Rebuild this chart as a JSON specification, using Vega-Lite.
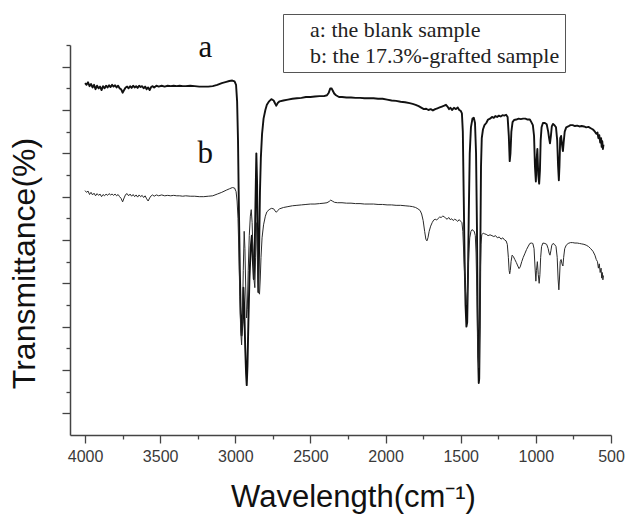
{
"$schema": "https://vega.github.io/schema/vega-lite/v6.json",
"width": 541, "height": 390,
"autosize": {"type": "none"},
"padding": {"left": 70, "top": 45, "right": 14, "bottom": 82},
"background": "white",
"config": {"view": {"stroke": null}},
"datasets": {
"spectra": [
{"s":"a","w":4000,"t":8.12},{"s":"a","w":3990,"t":8.08},{"s":"a","w":3980,"t":8.14},{"s":"a","w":3970,"t":8.05},{"s":"a","w":3960,"t":8.10},{"s":"a","w":3950,"t":8.02},{"s":"a","w":3940,"t":8.08},{"s":"a","w":3930,"t":7.98},{"s":"a","w":3920,"t":8.06},{"s":"a","w":3910,"t":8.00},{"s":"a","w":3900,"t":8.04},{"s":"a","w":3890,"t":7.96},{"s":"a","w":3880,"t":8.05},{"s":"a","w":3870,"t":8.00},{"s":"a","w":3860,"t":8.06},{"s":"a","w":3850,"t":8.02},{"s":"a","w":3840,"t":8.07},{"s":"a","w":3830,"t":8.03},{"s":"a","w":3820,"t":8.08},{"s":"a","w":3810,"t":8.04},{"s":"a","w":3800,"t":8.07},{"s":"a","w":3790,"t":8.02},{"s":"a","w":3780,"t":8.06},{"s":"a","w":3770,"t":8.00},{"s":"a","w":3760,"t":7.98},{"s":"a","w":3750,"t":7.90},{"s":"a","w":3740,"t":7.96},{"s":"a","w":3730,"t":8.02},{"s":"a","w":3720,"t":8.04},{"s":"a","w":3710,"t":8.00},{"s":"a","w":3700,"t":8.05},{"s":"a","w":3690,"t":8.01},{"s":"a","w":3680,"t":8.06},{"s":"a","w":3670,"t":8.02},{"s":"a","w":3660,"t":8.05},{"s":"a","w":3650,"t":8.01},{"s":"a","w":3640,"t":8.06},{"s":"a","w":3630,"t":8.03},{"s":"a","w":3620,"t":8.05},{"s":"a","w":3610,"t":8.00},{"s":"a","w":3600,"t":8.04},{"s":"a","w":3590,"t":7.98},{"s":"a","w":3580,"t":8.02},{"s":"a","w":3570,"t":7.96},{"s":"a","w":3560,"t":8.03},{"s":"a","w":3550,"t":8.05},{"s":"a","w":3540,"t":8.02},{"s":"a","w":3525,"t":8.06},{"s":"a","w":3510,"t":8.04},{"s":"a","w":3490,"t":8.06},{"s":"a","w":3470,"t":8.04},{"s":"a","w":3450,"t":8.06},{"s":"a","w":3430,"t":8.05},{"s":"a","w":3410,"t":8.06},{"s":"a","w":3390,"t":8.05},{"s":"a","w":3370,"t":8.06},{"s":"a","w":3350,"t":8.05},{"s":"a","w":3330,"t":8.05},{"s":"a","w":3300,"t":8.06},{"s":"a","w":3270,"t":8.05},{"s":"a","w":3240,"t":8.04},{"s":"a","w":3210,"t":8.04},{"s":"a","w":3180,"t":8.04},{"s":"a","w":3150,"t":8.05},{"s":"a","w":3120,"t":8.08},{"s":"a","w":3090,"t":8.12},{"s":"a","w":3060,"t":8.15},{"s":"a","w":3040,"t":8.17},{"s":"a","w":3020,"t":8.18},{"s":"a","w":3005,"t":8.16},{"s":"a","w":2995,"t":8.08},{"s":"a","w":2988,"t":7.7},{"s":"a","w":2982,"t":6.8},{"s":"a","w":2976,"t":5.2},{"s":"a","w":2970,"t":3.8},{"s":"a","w":2964,"t":2.8},{"s":"a","w":2958,"t":2.3},{"s":"a","w":2952,"t":2.6},{"s":"a","w":2946,"t":3.4},{"s":"a","w":2940,"t":2.9},{"s":"a","w":2934,"t":2.0},{"s":"a","w":2928,"t":1.4},{"s":"a","w":2924,"t":1.15},{"s":"a","w":2919,"t":1.6},{"s":"a","w":2913,"t":2.6},{"s":"a","w":2906,"t":3.6},{"s":"a","w":2898,"t":4.3},{"s":"a","w":2890,"t":4.6},{"s":"a","w":2883,"t":4.0},{"s":"a","w":2877,"t":3.6},{"s":"a","w":2871,"t":4.2},{"s":"a","w":2866,"t":5.3},{"s":"a","w":2860,"t":6.5},{"s":"a","w":2855,"t":5.8},{"s":"a","w":2851,"t":4.3},{"s":"a","w":2847,"t":3.3},{"s":"a","w":2842,"t":4.2},{"s":"a","w":2836,"t":5.6},{"s":"a","w":2830,"t":6.4},{"s":"a","w":2822,"t":6.95},{"s":"a","w":2812,"t":7.3},{"s":"a","w":2800,"t":7.5},{"s":"a","w":2790,"t":7.62},{"s":"a","w":2775,"t":7.7},{"s":"a","w":2760,"t":7.75},{"s":"a","w":2745,"t":7.72},{"s":"a","w":2735,"t":7.65},{"s":"a","w":2727,"t":7.6},{"s":"a","w":2718,"t":7.66},{"s":"a","w":2705,"t":7.7},{"s":"a","w":2680,"t":7.72},{"s":"a","w":2650,"t":7.74},{"s":"a","w":2620,"t":7.76},{"s":"a","w":2590,"t":7.77},{"s":"a","w":2560,"t":7.78},{"s":"a","w":2530,"t":7.8},{"s":"a","w":2500,"t":7.8},{"s":"a","w":2470,"t":7.81},{"s":"a","w":2440,"t":7.82},{"s":"a","w":2410,"t":7.82},{"s":"a","w":2390,"t":7.84},{"s":"a","w":2378,"t":7.9},{"s":"a","w":2368,"t":8.0},{"s":"a","w":2360,"t":8.0},{"s":"a","w":2352,"t":7.95},{"s":"a","w":2342,"t":7.88},{"s":"a","w":2330,"t":7.84},{"s":"a","w":2310,"t":7.8},{"s":"a","w":2290,"t":7.8},{"s":"a","w":2260,"t":7.79},{"s":"a","w":2230,"t":7.79},{"s":"a","w":2200,"t":7.78},{"s":"a","w":2170,"t":7.78},{"s":"a","w":2140,"t":7.77},{"s":"a","w":2110,"t":7.77},{"s":"a","w":2080,"t":7.77},{"s":"a","w":2050,"t":7.76},{"s":"a","w":2020,"t":7.76},{"s":"a","w":1990,"t":7.74},{"s":"a","w":1960,"t":7.72},{"s":"a","w":1930,"t":7.71},{"s":"a","w":1900,"t":7.69},{"s":"a","w":1870,"t":7.68},{"s":"a","w":1840,"t":7.66},{"s":"a","w":1820,"t":7.64},{"s":"a","w":1800,"t":7.62},{"s":"a","w":1780,"t":7.59},{"s":"a","w":1760,"t":7.55},{"s":"a","w":1745,"t":7.52},{"s":"a","w":1730,"t":7.53},{"s":"a","w":1715,"t":7.5},{"s":"a","w":1700,"t":7.52},{"s":"a","w":1685,"t":7.49},{"s":"a","w":1670,"t":7.52},{"s":"a","w":1655,"t":7.54},{"s":"a","w":1640,"t":7.56},{"s":"a","w":1625,"t":7.58},{"s":"a","w":1610,"t":7.6},{"s":"a","w":1598,"t":7.62},{"s":"a","w":1588,"t":7.58},{"s":"a","w":1578,"t":7.52},{"s":"a","w":1568,"t":7.55},{"s":"a","w":1558,"t":7.5},{"s":"a","w":1545,"t":7.55},{"s":"a","w":1532,"t":7.52},{"s":"a","w":1520,"t":7.56},{"s":"a","w":1510,"t":7.5},{"s":"a","w":1500,"t":7.48},{"s":"a","w":1492,"t":7.42},{"s":"a","w":1486,"t":7.0},{"s":"a","w":1480,"t":5.5},{"s":"a","w":1474,"t":4.0},{"s":"a","w":1468,"t":3.0},{"s":"a","w":1462,"t":2.5},{"s":"a","w":1457,"t":2.6},{"s":"a","w":1452,"t":3.6},{"s":"a","w":1446,"t":5.2},{"s":"a","w":1440,"t":6.5},{"s":"a","w":1432,"t":7.1},{"s":"a","w":1422,"t":7.3},{"s":"a","w":1413,"t":7.32},{"s":"a","w":1405,"t":7.2},{"s":"a","w":1398,"t":6.5},{"s":"a","w":1392,"t":4.8},{"s":"a","w":1388,"t":3.0},{"s":"a","w":1384,"t":1.8},{"s":"a","w":1380,"t":1.2},{"s":"a","w":1377,"t":1.3},{"s":"a","w":1373,"t":2.5},{"s":"a","w":1369,"t":4.5},{"s":"a","w":1365,"t":6.2},{"s":"a","w":1360,"t":6.85},{"s":"a","w":1352,"t":7.05},{"s":"a","w":1342,"t":7.15},{"s":"a","w":1330,"t":7.2},{"s":"a","w":1318,"t":7.28},{"s":"a","w":1305,"t":7.3},{"s":"a","w":1292,"t":7.34},{"s":"a","w":1280,"t":7.32},{"s":"a","w":1270,"t":7.36},{"s":"a","w":1258,"t":7.34},{"s":"a","w":1246,"t":7.37},{"s":"a","w":1234,"t":7.35},{"s":"a","w":1222,"t":7.38},{"s":"a","w":1210,"t":7.37},{"s":"a","w":1198,"t":7.39},{"s":"a","w":1188,"t":7.34},{"s":"a","w":1180,"t":6.9},{"s":"a","w":1174,"t":6.32},{"s":"a","w":1169,"t":6.5},{"s":"a","w":1163,"t":7.0},{"s":"a","w":1155,"t":7.22},{"s":"a","w":1145,"t":7.27},{"s":"a","w":1130,"t":7.28},{"s":"a","w":1115,"t":7.3},{"s":"a","w":1100,"t":7.29},{"s":"a","w":1085,"t":7.3},{"s":"a","w":1070,"t":7.3},{"s":"a","w":1055,"t":7.28},{"s":"a","w":1040,"t":7.28},{"s":"a","w":1030,"t":7.22},{"s":"a","w":1020,"t":7.15},{"s":"a","w":1012,"t":6.9},{"s":"a","w":1006,"t":6.2},{"s":"a","w":1000,"t":5.85},{"s":"a","w":996,"t":6.3},{"s":"a","w":990,"t":6.6},{"s":"a","w":984,"t":6.0},{"s":"a","w":978,"t":5.8},{"s":"a","w":973,"t":6.1},{"s":"a","w":968,"t":6.8},{"s":"a","w":962,"t":7.1},{"s":"a","w":953,"t":7.2},{"s":"a","w":940,"t":7.2},{"s":"a","w":928,"t":7.17},{"s":"a","w":918,"t":7.0},{"s":"a","w":912,"t":6.85},{"s":"a","w":906,"t":6.73},{"s":"a","w":900,"t":6.9},{"s":"a","w":894,"t":7.12},{"s":"a","w":886,"t":7.18},{"s":"a","w":876,"t":7.15},{"s":"a","w":866,"t":7.1},{"s":"a","w":858,"t":6.8},{"s":"a","w":852,"t":6.2},{"s":"a","w":847,"t":5.88},{"s":"a","w":843,"t":6.2},{"s":"a","w":838,"t":6.85},{"s":"a","w":832,"t":6.9},{"s":"a","w":826,"t":6.7},{"s":"a","w":820,"t":6.55},{"s":"a","w":815,"t":6.75},{"s":"a","w":808,"t":7.0},{"s":"a","w":798,"t":7.1},{"s":"a","w":785,"t":7.12},{"s":"a","w":770,"t":7.15},{"s":"a","w":755,"t":7.15},{"s":"a","w":740,"t":7.13},{"s":"a","w":725,"t":7.14},{"s":"a","w":710,"t":7.12},{"s":"a","w":695,"t":7.13},{"s":"a","w":680,"t":7.12},{"s":"a","w":665,"t":7.1},{"s":"a","w":650,"t":7.11},{"s":"a","w":635,"t":7.08},{"s":"a","w":620,"t":7.05},{"s":"a","w":607,"t":7.0},{"s":"a","w":598,"t":6.95},{"s":"a","w":590,"t":6.98},{"s":"a","w":584,"t":6.85},{"s":"a","w":578,"t":6.92},{"s":"a","w":572,"t":6.75},{"s":"a","w":566,"t":6.85},{"s":"a","w":562,"t":6.65},{"s":"a","w":558,"t":6.78},{"s":"a","w":554,"t":6.6},{"s":"a","w":550,"t":6.7},
{"s":"b","w":4000,"t":5.64},{"s":"b","w":3990,"t":5.60},{"s":"b","w":3980,"t":5.63},{"s":"b","w":3970,"t":5.55},{"s":"b","w":3960,"t":5.60},{"s":"b","w":3950,"t":5.54},{"s":"b","w":3940,"t":5.58},{"s":"b","w":3930,"t":5.52},{"s":"b","w":3920,"t":5.57},{"s":"b","w":3910,"t":5.53},{"s":"b","w":3900,"t":5.56},{"s":"b","w":3890,"t":5.50},{"s":"b","w":3880,"t":5.55},{"s":"b","w":3870,"t":5.52},{"s":"b","w":3860,"t":5.56},{"s":"b","w":3850,"t":5.53},{"s":"b","w":3840,"t":5.57},{"s":"b","w":3830,"t":5.54},{"s":"b","w":3820,"t":5.56},{"s":"b","w":3810,"t":5.53},{"s":"b","w":3800,"t":5.56},{"s":"b","w":3790,"t":5.52},{"s":"b","w":3780,"t":5.55},{"s":"b","w":3770,"t":5.50},{"s":"b","w":3760,"t":5.46},{"s":"b","w":3750,"t":5.38},{"s":"b","w":3740,"t":5.47},{"s":"b","w":3730,"t":5.55},{"s":"b","w":3720,"t":5.57},{"s":"b","w":3710,"t":5.52},{"s":"b","w":3700,"t":5.56},{"s":"b","w":3690,"t":5.51},{"s":"b","w":3680,"t":5.55},{"s":"b","w":3670,"t":5.50},{"s":"b","w":3660,"t":5.54},{"s":"b","w":3650,"t":5.49},{"s":"b","w":3640,"t":5.54},{"s":"b","w":3630,"t":5.50},{"s":"b","w":3620,"t":5.53},{"s":"b","w":3610,"t":5.48},{"s":"b","w":3600,"t":5.52},{"s":"b","w":3590,"t":5.45},{"s":"b","w":3580,"t":5.40},{"s":"b","w":3570,"t":5.47},{"s":"b","w":3560,"t":5.52},{"s":"b","w":3550,"t":5.54},{"s":"b","w":3540,"t":5.51},{"s":"b","w":3525,"t":5.54},{"s":"b","w":3510,"t":5.52},{"s":"b","w":3490,"t":5.54},{"s":"b","w":3470,"t":5.52},{"s":"b","w":3450,"t":5.53},{"s":"b","w":3430,"t":5.52},{"s":"b","w":3410,"t":5.53},{"s":"b","w":3390,"t":5.52},{"s":"b","w":3370,"t":5.52},{"s":"b","w":3350,"t":5.51},{"s":"b","w":3330,"t":5.52},{"s":"b","w":3300,"t":5.51},{"s":"b","w":3270,"t":5.51},{"s":"b","w":3240,"t":5.50},{"s":"b","w":3210,"t":5.50},{"s":"b","w":3180,"t":5.51},{"s":"b","w":3150,"t":5.52},{"s":"b","w":3120,"t":5.56},{"s":"b","w":3090,"t":5.60},{"s":"b","w":3060,"t":5.65},{"s":"b","w":3040,"t":5.68},{"s":"b","w":3020,"t":5.71},{"s":"b","w":3005,"t":5.70},{"s":"b","w":2995,"t":5.62},{"s":"b","w":2988,"t":5.4},{"s":"b","w":2982,"t":5.0},{"s":"b","w":2976,"t":4.2},{"s":"b","w":2970,"t":3.2},{"s":"b","w":2964,"t":2.4},{"s":"b","w":2958,"t":2.08},{"s":"b","w":2953,"t":2.6},{"s":"b","w":2947,"t":3.8},{"s":"b","w":2941,"t":4.7},{"s":"b","w":2936,"t":4.3},{"s":"b","w":2930,"t":3.3},{"s":"b","w":2925,"t":2.7},{"s":"b","w":2920,"t":2.9},{"s":"b","w":2914,"t":3.8},{"s":"b","w":2907,"t":4.6},{"s":"b","w":2900,"t":5.05},{"s":"b","w":2894,"t":5.2},{"s":"b","w":2888,"t":4.9},{"s":"b","w":2882,"t":4.2},{"s":"b","w":2876,"t":3.6},{"s":"b","w":2870,"t":3.4},{"s":"b","w":2865,"t":4.1},{"s":"b","w":2860,"t":4.9},{"s":"b","w":2855,"t":4.6},{"s":"b","w":2850,"t":3.9},{"s":"b","w":2845,"t":3.3},{"s":"b","w":2839,"t":3.25},{"s":"b","w":2834,"t":3.6},{"s":"b","w":2829,"t":4.1},{"s":"b","w":2822,"t":4.55},{"s":"b","w":2812,"t":4.85},{"s":"b","w":2800,"t":5.05},{"s":"b","w":2790,"t":5.15},{"s":"b","w":2775,"t":5.2},{"s":"b","w":2760,"t":5.23},{"s":"b","w":2745,"t":5.22},{"s":"b","w":2735,"t":5.17},{"s":"b","w":2727,"t":5.14},{"s":"b","w":2718,"t":5.18},{"s":"b","w":2705,"t":5.22},{"s":"b","w":2680,"t":5.25},{"s":"b","w":2650,"t":5.27},{"s":"b","w":2620,"t":5.29},{"s":"b","w":2590,"t":5.3},{"s":"b","w":2560,"t":5.31},{"s":"b","w":2530,"t":5.32},{"s":"b","w":2500,"t":5.33},{"s":"b","w":2470,"t":5.33},{"s":"b","w":2440,"t":5.34},{"s":"b","w":2410,"t":5.35},{"s":"b","w":2390,"t":5.36},{"s":"b","w":2375,"t":5.39},{"s":"b","w":2365,"t":5.42},{"s":"b","w":2355,"t":5.40},{"s":"b","w":2340,"t":5.37},{"s":"b","w":2320,"t":5.36},{"s":"b","w":2290,"t":5.36},{"s":"b","w":2260,"t":5.35},{"s":"b","w":2230,"t":5.35},{"s":"b","w":2200,"t":5.34},{"s":"b","w":2170,"t":5.34},{"s":"b","w":2140,"t":5.33},{"s":"b","w":2110,"t":5.33},{"s":"b","w":2080,"t":5.33},{"s":"b","w":2050,"t":5.32},{"s":"b","w":2020,"t":5.32},{"s":"b","w":1990,"t":5.31},{"s":"b","w":1960,"t":5.31},{"s":"b","w":1930,"t":5.3},{"s":"b","w":1900,"t":5.3},{"s":"b","w":1870,"t":5.29},{"s":"b","w":1840,"t":5.28},{"s":"b","w":1820,"t":5.27},{"s":"b","w":1800,"t":5.25},{"s":"b","w":1785,"t":5.22},{"s":"b","w":1770,"t":5.18},{"s":"b","w":1760,"t":5.1},{"s":"b","w":1750,"t":4.95},{"s":"b","w":1740,"t":4.7},{"s":"b","w":1732,"t":4.52},{"s":"b","w":1725,"t":4.48},{"s":"b","w":1718,"t":4.55},{"s":"b","w":1710,"t":4.7},{"s":"b","w":1700,"t":4.82},{"s":"b","w":1690,"t":4.9},{"s":"b","w":1680,"t":4.96},{"s":"b","w":1670,"t":4.98},{"s":"b","w":1660,"t":4.96},{"s":"b","w":1650,"t":5.0},{"s":"b","w":1640,"t":5.03},{"s":"b","w":1630,"t":5.02},{"s":"b","w":1620,"t":5.05},{"s":"b","w":1610,"t":5.04},{"s":"b","w":1600,"t":5.0},{"s":"b","w":1590,"t":4.98},{"s":"b","w":1580,"t":5.02},{"s":"b","w":1570,"t":4.97},{"s":"b","w":1560,"t":4.99},{"s":"b","w":1550,"t":4.95},{"s":"b","w":1540,"t":4.98},{"s":"b","w":1530,"t":4.96},{"s":"b","w":1520,"t":4.93},{"s":"b","w":1510,"t":4.97},{"s":"b","w":1500,"t":4.93},{"s":"b","w":1492,"t":4.9},{"s":"b","w":1486,"t":4.7},{"s":"b","w":1480,"t":4.2},{"s":"b","w":1474,"t":3.7},{"s":"b","w":1468,"t":3.3},{"s":"b","w":1462,"t":3.0},{"s":"b","w":1457,"t":3.1},{"s":"b","w":1452,"t":3.6},{"s":"b","w":1446,"t":4.2},{"s":"b","w":1440,"t":4.55},{"s":"b","w":1432,"t":4.7},{"s":"b","w":1425,"t":4.74},{"s":"b","w":1418,"t":4.72},{"s":"b","w":1410,"t":4.7},{"s":"b","w":1403,"t":4.6},{"s":"b","w":1398,"t":4.2},{"s":"b","w":1392,"t":3.2},{"s":"b","w":1388,"t":2.3},{"s":"b","w":1384,"t":1.8},{"s":"b","w":1380,"t":1.55},{"s":"b","w":1377,"t":1.7},{"s":"b","w":1373,"t":2.6},{"s":"b","w":1369,"t":3.8},{"s":"b","w":1365,"t":4.4},{"s":"b","w":1360,"t":4.62},{"s":"b","w":1350,"t":4.66},{"s":"b","w":1340,"t":4.64},{"s":"b","w":1330,"t":4.63},{"s":"b","w":1318,"t":4.6},{"s":"b","w":1305,"t":4.62},{"s":"b","w":1292,"t":4.6},{"s":"b","w":1280,"t":4.58},{"s":"b","w":1268,"t":4.6},{"s":"b","w":1256,"t":4.55},{"s":"b","w":1244,"t":4.57},{"s":"b","w":1232,"t":4.52},{"s":"b","w":1220,"t":4.55},{"s":"b","w":1208,"t":4.5},{"s":"b","w":1198,"t":4.48},{"s":"b","w":1190,"t":4.4},{"s":"b","w":1183,"t":4.1},{"s":"b","w":1178,"t":3.8},{"s":"b","w":1174,"t":3.72},{"s":"b","w":1170,"t":3.8},{"s":"b","w":1165,"t":4.0},{"s":"b","w":1158,"t":4.15},{"s":"b","w":1150,"t":4.12},{"s":"b","w":1140,"t":4.05},{"s":"b","w":1130,"t":3.98},{"s":"b","w":1120,"t":3.9},{"s":"b","w":1112,"t":3.84},{"s":"b","w":1104,"t":3.88},{"s":"b","w":1094,"t":4.0},{"s":"b","w":1084,"t":4.1},{"s":"b","w":1074,"t":4.18},{"s":"b","w":1062,"t":4.28},{"s":"b","w":1050,"t":4.36},{"s":"b","w":1040,"t":4.42},{"s":"b","w":1030,"t":4.43},{"s":"b","w":1020,"t":4.42},{"s":"b","w":1012,"t":4.3},{"s":"b","w":1006,"t":3.9},{"s":"b","w":1000,"t":3.55},{"s":"b","w":996,"t":3.8},{"s":"b","w":990,"t":4.0},{"s":"b","w":984,"t":3.7},{"s":"b","w":978,"t":3.5},{"s":"b","w":973,"t":3.7},{"s":"b","w":968,"t":4.1},{"s":"b","w":962,"t":4.35},{"s":"b","w":953,"t":4.43},{"s":"b","w":940,"t":4.42},{"s":"b","w":928,"t":4.4},{"s":"b","w":918,"t":4.3},{"s":"b","w":912,"t":4.2},{"s":"b","w":906,"t":4.15},{"s":"b","w":900,"t":4.25},{"s":"b","w":894,"t":4.38},{"s":"b","w":886,"t":4.42},{"s":"b","w":876,"t":4.4},{"s":"b","w":866,"t":4.35},{"s":"b","w":858,"t":4.1},{"s":"b","w":852,"t":3.6},{"s":"b","w":847,"t":3.35},{"s":"b","w":843,"t":3.6},{"s":"b","w":838,"t":4.0},{"s":"b","w":832,"t":4.05},{"s":"b","w":826,"t":3.95},{"s":"b","w":820,"t":3.9},{"s":"b","w":815,"t":4.1},{"s":"b","w":808,"t":4.3},{"s":"b","w":798,"t":4.38},{"s":"b","w":785,"t":4.42},{"s":"b","w":770,"t":4.44},{"s":"b","w":755,"t":4.44},{"s":"b","w":740,"t":4.43},{"s":"b","w":725,"t":4.43},{"s":"b","w":710,"t":4.42},{"s":"b","w":695,"t":4.41},{"s":"b","w":680,"t":4.4},{"s":"b","w":665,"t":4.38},{"s":"b","w":650,"t":4.35},{"s":"b","w":635,"t":4.3},{"s":"b","w":620,"t":4.24},{"s":"b","w":607,"t":4.15},{"s":"b","w":598,"t":4.05},{"s":"b","w":590,"t":4.0},{"s":"b","w":584,"t":3.85},{"s":"b","w":578,"t":3.95},{"s":"b","w":572,"t":3.75},{"s":"b","w":566,"t":3.85},{"s":"b","w":562,"t":3.62},{"s":"b","w":558,"t":3.75},{"s":"b","w":554,"t":3.58},{"s":"b","w":550,"t":3.68}
],
"labels": [{"label": "a", "w": 3200, "t": 8.72}, {"label": "b", "w": 3200, "t": 6.28}]
},
"encoding": {
  "x": {"field": "w", "type": "quantitative",
    "scale": {"domain": [500, 4100], "reverse": true, "nice": false, "zero": false},
    "axis": {"values": [4000,3750,3500,3250,3000,2750,2500,2250,2000,1750,1500,1250,1000,750,500],
      "format": "d",
      "labelExpr": "datum.value % 500 === 0 ? datum.label : ''",
      "tickSize": {"condition": {"test": "datum.value % 500 === 0", "value": 8}, "value": 4},
      "grid": false, "domainColor": "#444", "domainWidth": 1.5, "tickColor": "#444", "tickWidth": 1.3,
      "labelFont": "Liberation Sans", "labelFontSize": 16, "labelColor": "#3a3a3a", "labelPadding": 5,
      "labelFlush": false, "labelOverlap": false,
      "title": "Wavelength(cm⁻¹)", "titleFont": "Liberation Sans", "titleFontSize": 31,
      "titleFontWeight": "normal", "titleColor": "#111", "titlePadding": 18, "titleX": 283}},
  "y": {"field": "t", "type": "quantitative",
    "scale": {"domain": [0, 9], "nice": false, "zero": false},
    "axis": {"values": [0.5,1,1.5,2,2.5,3,3.5,4,4.5,5,5.5,6,6.5,7,7.5,8,8.5,9],
      "labels": false,
      "tickSize": {"condition": {"test": "datum.value % 1 === 0.5", "value": 8}, "value": 4},
      "grid": false, "domainColor": "#444", "domainWidth": 1.5, "tickColor": "#444", "tickWidth": 1.3,
      "title": "Transmittance(%)", "titleFont": "Liberation Sans", "titleFontSize": 32,
      "titleFontWeight": "normal", "titleColor": "#111", "titlePadding": 20, "titleY": 218}}
},
"layer": [
  {"data": {"name": "spectra"},
   "mark": {"type": "line", "clip": true, "strokeJoin": "round"},
   "encoding": {
     "color": {"field": "s", "type": "nominal",
       "scale": {"domain": ["a", "b"], "range": ["#111111", "#2a2a2a"]},
       "legend": {"orient": "none", "legendX": 213, "legendY": -31, "title": null,
         "labelExpr": "datum.label === 'a' ? 'a: the blank sample' : 'b: the 17.3%-grafted sample'",
         "labelFont": "Liberation Serif", "labelFontSize": 22, "labelColor": "#222", "labelLimit": 500,
         "labelOffset": 0, "symbolType": "circle", "symbolSize": 0, "symbolOpacity": 0, "symbolStrokeWidth": 0,
         "rowPadding": 4, "padding": 5, "strokeColor": "#555", "fillColor": "white"}},
     "strokeWidth": {"field": "s", "type": "nominal",
       "scale": {"domain": ["a", "b"], "range": [1.9, 1.0]}, "legend": null}
   }},
  {"data": {"name": "labels"},
   "mark": {"type": "text", "font": "Liberation Serif", "fontSize": 31, "baseline": "alphabetic", "align": "center", "color": "#111"},
   "encoding": {"text": {"field": "label"}}}
]
}
